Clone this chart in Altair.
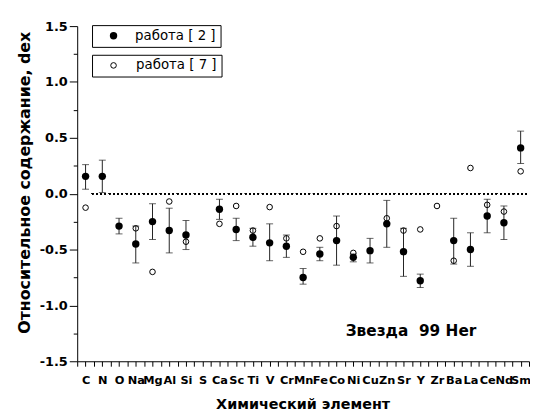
import altair as alt
import pandas as pd

# ---------------- data ----------------
elements = ["C", "N", "O", "Na", "Mg", "Al", "Si", "S", "Ca", "Sc", "Ti", "V", "Cr", "Mn",
            "Fe", "Co", "Ni", "Cu", "Zn", "Sr", "Y", "Zr", "Ba", "La", "Ce", "Nd", "Sm"]
work2 = [0.155, 0.155, -0.29, -0.45, -0.25, -0.33, -0.37, None, -0.14, -0.32, -0.39, -0.44, -0.47, -0.75,
         -0.54, -0.42, -0.57, -0.51, -0.27, -0.52, -0.78, None, -0.42, -0.50, -0.20, -0.26, 0.41]
work2_lo = [0.04, 0.01, -0.36, -0.62, -0.41, -0.53, -0.50, None, -0.23, -0.42, -0.47, -0.60, -0.57, -0.81,
            -0.60, -0.64, -0.61, -0.62, -0.48, -0.74, -0.84, None, -0.63, -0.65, -0.35, -0.41, 0.27]
work2_hi = [0.26, 0.30, -0.22, -0.29, -0.09, -0.13, -0.24, None, -0.05, -0.22, -0.31, -0.27, -0.37, -0.67,
            -0.48, -0.20, -0.54, -0.40, -0.06, -0.31, -0.72, None, -0.22, -0.35, -0.05, -0.11, 0.56]
work7 = [-0.125, None, None, -0.31, -0.70, -0.07, -0.43, None, -0.27, -0.11, -0.33, -0.12, -0.40, -0.52,
         -0.40, -0.29, -0.53, None, -0.22, -0.33, -0.32, -0.11, -0.60, 0.23, -0.10, -0.16, 0.20]
label2 = "работа [ 2 ]"
label7 = "работа [ 7 ]"
star_text = "Звезда\u00a0 99 Her"

idx = list(range(1, len(elements) + 1))
df = pd.DataFrame({"i": idx, "el": elements, "v2": work2, "lo": work2_lo, "hi": work2_hi,
                   "v7": work7, "s2": label2, "s7": label7})
df2 = df.dropna(subset=["v2"])
df7 = df.dropna(subset=["v7"])
ann = pd.DataFrame({"i": [20.45], "v": [-1.23], "t": [star_text]})

FONT = "DejaVu Sans"

# ---------------- axes ----------------
js_names = "[" + ",".join("'" + e + "'" for e in elements) + "]"
xvals = [0.5 * k for k in range(1, 2 * len(elements) + 2)]
xaxis = alt.Axis(values=xvals, labelExpr="datum.value % 1 === 0 ? " + js_names + "[datum.value - 1] : ''",
                 labelOverlap=False, labelFlush=False, tickSize=5, labelPadding=8,
                 labelFontSize=11.5, title="Химический элемент", titleFontSize=14.5,
                 titleX=228, titleY=48, titleBaseline="alphabetic", titleAnchor="middle")
xscale = alt.Scale(domain=[0.5, len(elements) + 0.5], nice=False, zero=False)

yvals = [-1.5 + 0.25 * k for k in range(13)]
yaxis = alt.Axis(values=yvals,
                 labelExpr="datum.value % 0.5 === 0 ? (datum.value < 0 ? '-' : '') + format(abs(datum.value), '.1f') : ''",
                 tickSize={"condition": {"test": "datum.value % 0.5 === 0", "value": 8}, "value": 4},
                 labelPadding=2, labelFontSize=13, title="Относительное содержание, dex",
                 titleFontSize=16, titleX=-53, titleY=158, titleAngle=270,
                 titleBaseline="middle", titleAlign="center")
yscale = alt.Scale(domain=[-1.5, 1.5], nice=False, zero=False)

X = lambda f: alt.X(f, scale=xscale, axis=xaxis)
Y = lambda f: alt.Y(f, scale=yscale, axis=yaxis)

# ---------------- layers ----------------
zero_line = alt.Chart(df).mark_rule(color="black", strokeWidth=1.3, strokeDash=[1.3, 3]).encode(
    x=alt.datum(1.38, scale=xscale, axis=xaxis), x2=alt.datum(27.5), y=alt.datum(0, scale=yscale, axis=yaxis))

bars = alt.Chart(df2).mark_rule(color="#222222", strokeWidth=1).encode(
    x=X("i:Q"), y=Y("lo:Q"), y2="hi:Q")

caps = alt.Chart(df2).transform_fold(["lo", "hi"], as_=["k", "e"]).mark_tick(
    orient="horizontal", size=7, thickness=1, color="#222222").encode(x=X("i:Q"), y=Y("e:Q"))

pts2 = alt.Chart(df2).mark_point(filled=True, size=56, opacity=1, shape="circle").encode(
    x=X("i:Q"), y=Y("v2:Q"),
    color=alt.Color("s2:N", scale=alt.Scale(domain=[label2], range=["black"]),
                    legend=alt.Legend(title=None, orient="none", legendX=15, legendY=-1,
                                      strokeColor="black", fillColor="white", padding=4,
                                      symbolType="circle", symbolSize=56, symbolOffset=11,
                                      labelOffset=15, labelFontSize=13.5, labelFont=FONT,
                                      labelFontWeight="normal")))

pts7 = alt.Chart(df7).mark_point(filled=False, size=32, color="black", strokeWidth=1, opacity=1).encode(
    x=X("i:Q"), y=Y("v7:Q"),
    shape=alt.Shape("s7:N", scale=alt.Scale(domain=[label7], range=["circle"]),
                    legend=alt.Legend(title=None, orient="none", legendX=15, legendY=29,
                                      strokeColor="black", fillColor="white", padding=4,
                                      symbolSize=32, symbolFillColor="white",
                                      symbolStrokeColor="black", symbolStrokeWidth=1,
                                      symbolOffset=11, labelOffset=16, labelFontSize=13.5,
                                      labelFont=FONT, labelFontWeight="normal")))

note = alt.Chart(ann).mark_text(font=FONT, fontWeight="bold", fontSize=15.5, color="black",
                                align="center", baseline="middle").encode(
    x=X("i:Q"), y=Y("v:Q"), text="t:N")

chart = alt.layer(zero_line, bars, caps, pts7, pts2, note).resolve_legend(
    color="independent", shape="independent").properties(
    width=457, height=339,
    padding={"left": 70, "top": 16, "right": 1, "bottom": 48},
    autosize=alt.AutoSizeParams(type="none"),
    background="white",
).configure_axis(
    domainColor="black", tickColor="black", labelColor="black", titleColor="black",
    grid=False, labelFont=FONT, labelFontWeight="bold", titleFont=FONT, titleFontWeight="bold",
    domainWidth=1, tickWidth=1,
).configure_view(strokeWidth=0)

chart.save("out.html", embed_options={"renderer": "svg", "actions": False})
